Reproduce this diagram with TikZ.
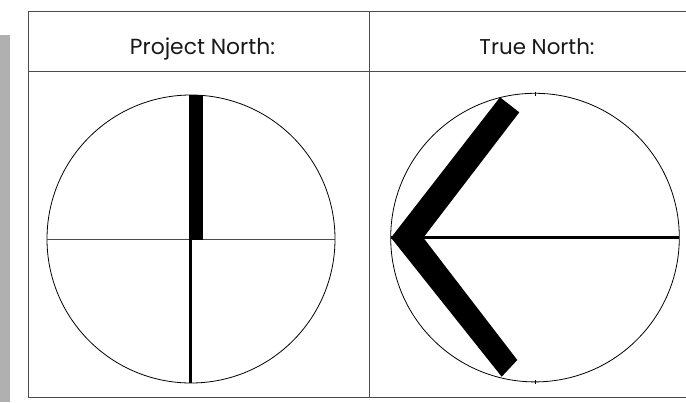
\documentclass[tikz,border=0pt]{standalone}
\usepackage{fontspec}
\setmainfont{Poppins}
\begin{document}
\begin{tikzpicture}[x=1pt,y=-1pt,
  grid/.style={draw=black!70,line width=1pt},
  ring/.style={draw=black,line width=0.8pt},
  label/.style={inner sep=0pt,anchor=base,text=black!90}]
\useasboundingbox (0,0) rectangle (686,402);
% gray side bar
\fill[black!31] (0,35) rectangle (10,402);
% table
\draw[grid] (686,11) -- (28,11) -- (28,397) -- (686,397);
\draw[grid] (28,71) -- (686,71);
\draw[grid] (369,11) -- (369,397);
% header labels
\node[label] (pn) at (202.5,54) {\resizebox{145pt}{!}{Project North:}};
\node[label] (tn) at (537,54) {\resizebox{115pt}{!}{True North:}};
% left compass
\coordinate (lc) at (191,239);
\draw[ring] (lc) circle[radius=144];
\draw[black!70,line width=1pt] (47,239) -- (335,239);
\fill[black] (189,95) rectangle (203,239.5);
\draw[black,line width=3pt] (190.7,239) -- (190.7,383);
% right compass
\coordinate (rc) at (535,237.6);
\draw[ring] (rc) circle[radius=144.3];
\draw[black,line width=2.6pt] (391,237.7) -- (679,237.7);
\fill[black] (391,237.7) -- (500,97.3) -- (519.3,112.3) -- (423.3,237.7)
  -- (517.3,360) -- (501.7,376.7) -- cycle;
\draw[black,line width=0.8pt] (535,91.5) -- (535,95.5);
\draw[black,line width=0.8pt] (535,380) -- (535,384);
\end{tikzpicture}
\end{document}
